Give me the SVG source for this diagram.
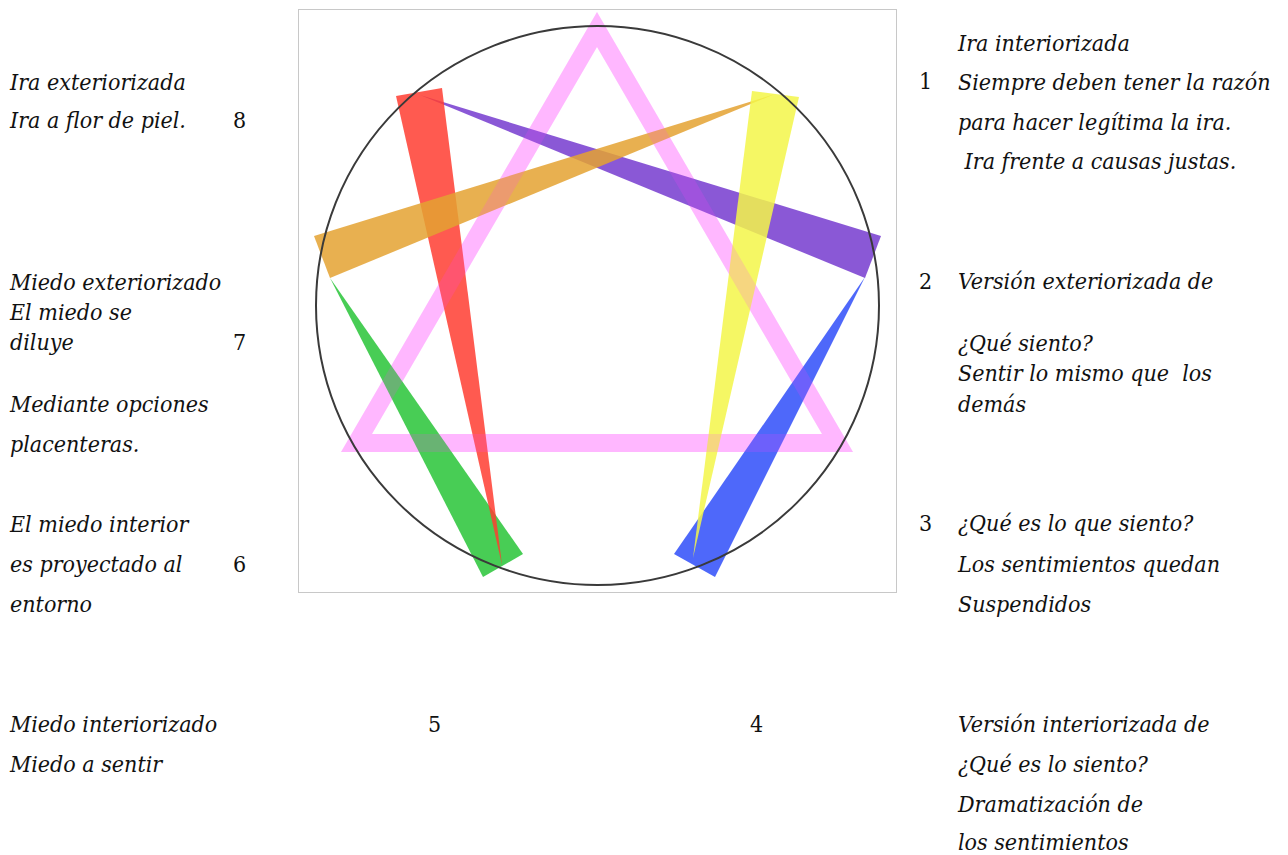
<svg xmlns="http://www.w3.org/2000/svg" width="1288" height="855" viewBox="0 0 1288 855">
<style>
text{font-family:'DejaVu Serif Condensed','DejaVu Serif',serif;font-stretch:condensed;font-size:23px;fill:#111;white-space:pre}
.it{font-style:italic}
.w{opacity:0.85}
</style>
<rect x="0" y="0" width="1288" height="855" fill="#fff"/>
<g id="figure">
<rect x="298.5" y="9.5" width="598" height="583" fill="#fff" stroke="#c8c8c8" stroke-width="1"/>
<path id="triangle" d="M597,12 L853,452 L341,452 Z M597,47 L372,434 L822,434 Z" fill="#ff66ff" fill-rule="evenodd" opacity="0.35"/>
<polygon class="w" id="purple" points="420,95 881,236 865,278" fill="#763bcf"/>
<polygon class="w" id="green" points="330,278 523,554 483,577" fill="#28c437"/>
<polygon class="w" id="blue" points="865,277 674,554 715,577" fill="#2f4ef9"/>
<polygon class="w" id="red" points="396,96 442,88 502,565" fill="#ff3d31"/>
<polygon class="w" id="orange" points="314,236 330,278 775,94" fill="#e4a231"/>
<polygon class="w" id="yellow" points="752,91 799,97 693,558" fill="#f3f649"/>
<path d="M597,12 L853,452 L341,452 Z M597,47 L372,434 L822,434 Z" fill="#ff66ff" fill-rule="evenodd" opacity="0.18"/>
<ellipse cx="597.5" cy="305.5" rx="281.5" ry="279.5" fill="none" stroke="#3a3a3a" stroke-width="2"/>
</g>
<g id="n8">
<text class="it" x="10" y="90">Ira exteriorizada</text>
<text class="it" x="10" y="128">Ira a flor de piel.</text>
<text x="233" y="128">8</text>
</g>
<g id="n7">
<text class="it" x="10" y="290">Miedo exteriorizado</text>
<text class="it" x="10" y="320">El miedo se</text>
<text class="it" x="10" y="350">diluye</text>
<text x="233" y="350">7</text>
<text class="it" x="10" y="412">Mediante opciones</text>
<text class="it" x="10" y="452">placenteras.</text>
</g>
<g id="n6">
<text class="it" x="10" y="532">El miedo interior</text>
<text class="it" x="10" y="572">es proyectado al</text>
<text x="233" y="572">6</text>
<text class="it" x="10" y="612">entorno</text>
</g>
<g id="n5">
<text class="it" x="10" y="732">Miedo interiorizado</text>
<text class="it" x="10" y="772">Miedo a sentir</text>
<text x="428" y="732">5</text>
</g>
<g id="n4">
<text x="750" y="732">4</text>
<text class="it" x="958" y="732">Versión interiorizada de</text>
<text class="it" x="958" y="772">¿Qué es lo siento?</text>
<text class="it" x="958" y="812">Dramatización de</text>
<text class="it" x="958" y="850">los sentimientos</text>
</g>
<g id="n1">
<text class="it" x="958" y="51">Ira interiorizada</text>
<text x="919" y="89">1</text>
<text class="it" x="958" y="90">Siempre deben tener la razón</text>
<text class="it" x="958" y="130">para hacer legítima la ira.</text>
<text class="it" x="958" y="169"> Ira frente a causas justas.</text>
</g>
<g id="n2">
<text x="919" y="289">2</text>
<text class="it" x="958" y="289">Versión exteriorizada de</text>
<text class="it" x="958" y="351">¿Qué siento?</text>
<text class="it" x="958" y="381">Sentir lo mismo que  los</text>
<text class="it" x="958" y="412">demás</text>
</g>
<g id="n3">
<text x="919" y="531">3</text>
<text class="it" x="958" y="531">¿Qué es lo que siento?</text>
<text class="it" x="958" y="572">Los sentimientos quedan</text>
<text class="it" x="958" y="612">Suspendidos</text>
</g>
<g id="connectors"></g>
</svg>
